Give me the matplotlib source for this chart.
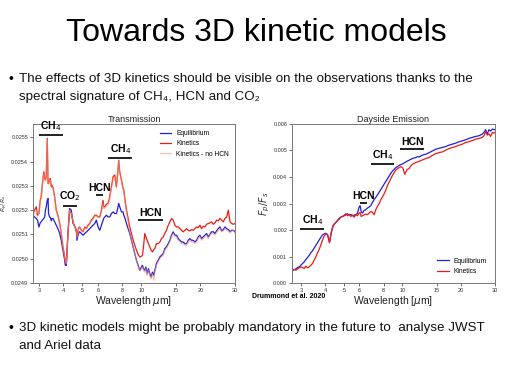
import numpy as np
import matplotlib
matplotlib.use("Agg")
import matplotlib.pyplot as plt
from matplotlib.ticker import NullLocator, FormatStrFormatter

plt.rcParams['font.family'] = ['Liberation Sans', 'DejaVu Sans']
plt.rcParams['mathtext.fontset'] = 'dejavusans'

# ---- transmission (left panel) ----
wl_tr = [2.795, 2.851, 2.907, 2.953, 3.000, 3.047, 3.083, 3.12, 3.18, 3.21,
         3.24, 3.27, 3.31, 3.34, 3.36, 3.40, 3.43, 3.47, 3.50, 3.54,
         3.61, 3.68, 3.75, 3.83, 3.90, 3.98, 4.06, 4.09, 4.14, 4.22,
         4.30, 4.39, 4.48, 4.51, 4.62, 4.66, 4.69, 4.77, 4.84, 4.94,
         5.04, 5.14, 5.24, 5.34, 5.45, 5.55, 5.66, 5.78, 5.89, 6.01,
         6.13, 6.25, 6.37, 6.42, 6.50, 6.63, 6.76, 6.89, 7.03, 7.17,
         7.31, 7.45, 7.54, 7.66, 7.75, 7.91, 8.06, 8.13, 8.25, 8.39,
         8.55, 8.72, 8.89, 9.07, 9.25, 9.43, 9.62, 9.81, 10.00, 10.12,
         10.24, 10.40, 10.53, 10.69, 10.86, 11.03, 11.20, 11.38, 11.56, 11.70,
         11.93, 12.17, 12.41, 12.66, 12.91, 13.16, 13.42, 13.69, 13.96, 14.24,
         14.52, 14.81, 15.10, 15.40, 15.70, 16.01, 16.33, 16.65, 16.98, 17.32,
         17.66, 18.01, 18.37, 18.73, 19.10, 19.48, 19.87, 20.26, 20.66, 21.07,
         21.49, 21.91, 22.35, 22.79, 23.24, 23.70, 24.17, 24.65, 25.14, 25.64,
         26.15, 26.66, 27.19, 27.73, 28.29, 28.85, 29.42, 30.00]

tr_equilibrium = [
    0.025179, 0.025172, 0.025166, 0.025159, 0.025131, 0.025148, 0.025152, 0.025159, 0.025166, 0.025172,
    0.025200, 0.025214, 0.025241, 0.025248, 0.025186, 0.025172, 0.025170, 0.025156, 0.025166, 0.025166,
    0.025152, 0.025138, 0.025124, 0.025104, 0.025076, 0.025035, 0.024994, 0.024973, 0.024973, 0.025104,
    0.025207, 0.025200, 0.025145, 0.025142, 0.025124, 0.025111, 0.025076, 0.025104, 0.025111, 0.025104,
    0.025097, 0.025104, 0.025111, 0.025117, 0.025124, 0.025131, 0.025138, 0.025145, 0.025159, 0.025131,
    0.025117, 0.025138, 0.025159, 0.025166, 0.025172, 0.025179, 0.025172, 0.025172, 0.025186, 0.025193,
    0.025186, 0.025186, 0.025200, 0.025228, 0.025214, 0.025193, 0.025193, 0.025179, 0.025166, 0.025145,
    0.025124, 0.025104, 0.025076, 0.025049, 0.025021, 0.024994, 0.024973, 0.024952, 0.024966, 0.024973,
    0.024959, 0.024952, 0.024966, 0.024939, 0.024959, 0.024939, 0.024925, 0.024945, 0.024932, 0.024952,
    0.024980, 0.024994, 0.025007, 0.025014, 0.025021, 0.025042, 0.025049, 0.025062, 0.025076, 0.025097,
    0.025111, 0.025097, 0.025097, 0.025083, 0.025076, 0.025069, 0.025069, 0.025062, 0.025062, 0.025076,
    0.025083, 0.025076, 0.025076, 0.025069, 0.025076, 0.025090, 0.025097, 0.025083, 0.025090, 0.025097,
    0.025104, 0.025090, 0.025101, 0.025111, 0.025111, 0.025104, 0.025115, 0.025124, 0.025131, 0.025115,
    0.025120, 0.025131, 0.025124, 0.025120, 0.025111, 0.025117, 0.025117, 0.025111]

tr_kinetics = [
    0.025186, 0.025200, 0.025214, 0.025179, 0.025186, 0.025241, 0.025255, 0.025303, 0.025358, 0.025331,
    0.025324, 0.025338, 0.025496, 0.025310, 0.025310, 0.025324, 0.025331, 0.025296, 0.025303, 0.025294,
    0.025255, 0.025200, 0.025179, 0.025145, 0.025104, 0.025049, 0.025007, 0.024994, 0.024980, 0.025104,
    0.025200, 0.025186, 0.025152, 0.025145, 0.025124, 0.025117, 0.025090, 0.025124, 0.025131, 0.025117,
    0.025111, 0.025131, 0.025124, 0.025138, 0.025145, 0.025159, 0.025166, 0.025179, 0.025179, 0.025172,
    0.025172, 0.025200, 0.025241, 0.025214, 0.025214, 0.025225, 0.025228, 0.025255, 0.025296, 0.025338,
    0.025345, 0.025296, 0.025338, 0.025406, 0.025358, 0.025324, 0.025290, 0.025283, 0.025241, 0.025200,
    0.025166, 0.025131, 0.025104, 0.025076, 0.025056, 0.025035, 0.025018, 0.025007, 0.025010, 0.025014,
    0.025049, 0.025104, 0.025090, 0.025076, 0.025062, 0.025049, 0.025035, 0.025028, 0.025038, 0.025042,
    0.025062, 0.025062, 0.025069, 0.025083, 0.025090, 0.025104, 0.025117, 0.025138, 0.025152, 0.025166,
    0.025159, 0.025138, 0.025131, 0.025131, 0.025124, 0.025117, 0.025111, 0.025117, 0.025124, 0.025117,
    0.025115, 0.025120, 0.025117, 0.025124, 0.025131, 0.025128, 0.025138, 0.025124, 0.025134, 0.025131,
    0.025142, 0.025145, 0.025148, 0.025152, 0.025142, 0.025148, 0.025159, 0.025156, 0.025166, 0.025159,
    0.025152, 0.025166, 0.025172, 0.025200, 0.025152, 0.025145, 0.025142, 0.025145]

tr_kinetics_nohcn = [
    0.025179, 0.025193, 0.025200, 0.025172, 0.025186, 0.025234, 0.025255, 0.025299, 0.025351, 0.025331,
    0.025324, 0.025338, 0.025492, 0.025310, 0.025307, 0.025321, 0.025327, 0.025294, 0.025299, 0.025290,
    0.025252, 0.025200, 0.025179, 0.025145, 0.025104, 0.025049, 0.025007, 0.024991, 0.024980, 0.025104,
    0.025200, 0.025186, 0.025152, 0.025142, 0.025124, 0.025115, 0.025087, 0.025120, 0.025131, 0.025115,
    0.025111, 0.025127, 0.025124, 0.025134, 0.025142, 0.025156, 0.025161, 0.025175, 0.025175, 0.025170,
    0.025170, 0.025193, 0.025228, 0.025207, 0.025207, 0.025217, 0.025221, 0.025248, 0.025290, 0.025331,
    0.025338, 0.025294, 0.025335, 0.025404, 0.025354, 0.025321, 0.025285, 0.025280, 0.025234, 0.025193,
    0.025152, 0.025111, 0.025076, 0.025049, 0.025021, 0.024991, 0.024969, 0.024950, 0.024959, 0.024966,
    0.024952, 0.024945, 0.024959, 0.024932, 0.024952, 0.024932, 0.024918, 0.024939, 0.024911, 0.024945,
    0.024973, 0.024987, 0.025000, 0.025007, 0.025014, 0.025035, 0.025042, 0.025056, 0.025069, 0.025090,
    0.025104, 0.025090, 0.025090, 0.025076, 0.025069, 0.025062, 0.025062, 0.025056, 0.025056, 0.025069,
    0.025076, 0.025069, 0.025069, 0.025062, 0.025069, 0.025083, 0.025090, 0.025076, 0.025083, 0.025090,
    0.025097, 0.025083, 0.025097, 0.025104, 0.025104, 0.025097, 0.025108, 0.025117, 0.025124, 0.025111,
    0.025115, 0.025124, 0.025117, 0.025115, 0.025106, 0.025115, 0.025115, 0.025106]

# ---- dayside emission (right panel) ----
wl_em = [2.697, 2.772, 2.827, 2.884, 2.941, 3.000, 3.060, 3.121, 3.183, 3.247,
         3.311, 3.377, 3.445, 3.513, 3.584, 3.655, 3.728, 3.802, 3.878, 3.956,
         4.034, 4.115, 4.164, 4.214, 4.264, 4.332, 4.401, 4.471, 4.542, 4.633,
         4.725, 4.819, 4.915, 5.013, 5.113, 5.215, 5.319, 5.425, 5.533, 5.644,
         5.756, 5.871, 5.988, 6.059, 6.131, 6.229, 6.353, 6.480, 6.609, 6.741,
         6.875, 7.012, 7.152, 7.295, 7.440, 7.589, 7.740, 7.894, 8.052, 8.212,
         8.376, 8.543, 8.713, 8.887, 9.064, 9.244, 9.429, 9.617, 9.808, 10.004,
         10.123, 10.284, 10.407, 10.615, 10.826, 11.042, 11.262, 11.487, 11.716, 11.949,
         12.187, 12.430, 12.678, 12.931, 13.188, 13.451, 13.720, 13.993, 14.272, 14.556,
         14.847, 15.143, 15.444, 16.067, 16.713, 17.387, 18.087, 18.816, 19.574, 20.362,
         21.182, 22.035, 22.923, 23.846, 24.807, 25.806, 26.320, 26.846, 27.382, 27.928,
         28.485, 29.067, 29.647, 30.0]

em_equilibrium = [
    0.000457, 0.000507, 0.000533, 0.000584, 0.000609, 0.000672, 0.000736, 0.000799, 0.000888, 0.000964,
    0.001040, 0.001142, 0.001218, 0.001319, 0.001421, 0.001522, 0.001624, 0.001725, 0.001814, 0.001852,
    0.001877, 0.001827, 0.001687, 0.001522, 0.001751, 0.002004, 0.002157, 0.002233, 0.002283, 0.002360,
    0.002436, 0.002486, 0.002512, 0.002537, 0.002575, 0.002613, 0.002562, 0.002588, 0.002537, 0.002562,
    0.002575, 0.002639, 0.002867, 0.002918, 0.002702, 0.002639, 0.002740, 0.002765, 0.002829, 0.002867,
    0.002918, 0.003045, 0.003146, 0.003235, 0.003324, 0.003425, 0.003527, 0.003628, 0.003730, 0.003831,
    0.003933, 0.004034, 0.004136, 0.004224, 0.004288, 0.004351, 0.004389, 0.004440, 0.004465, 0.004491,
    0.004516, 0.004541, 0.004567, 0.004605, 0.004630, 0.004668, 0.004694, 0.004719, 0.004732, 0.004770,
    0.004757, 0.004795, 0.004820, 0.004846, 0.004859, 0.004884, 0.004922, 0.004947, 0.004985, 0.005011,
    0.005049, 0.005062, 0.005087, 0.005112, 0.005150, 0.005201, 0.005239, 0.005277, 0.005328, 0.005366,
    0.005404, 0.005455, 0.005493, 0.005531, 0.005556, 0.005620, 0.005683, 0.005785, 0.005620, 0.005785,
    0.005734, 0.005810, 0.005785, 0.005785]

em_kinetics = [
    0.000482, 0.000507, 0.000482, 0.000533, 0.000571, 0.000609, 0.000584, 0.000545, 0.000634, 0.000571,
    0.000609, 0.000672, 0.000736, 0.000863, 0.000989, 0.001142, 0.001269, 0.001433, 0.001624, 0.001776,
    0.001852, 0.001827, 0.001687, 0.001522, 0.001751, 0.002004, 0.002157, 0.002233, 0.002283, 0.002360,
    0.002410, 0.002486, 0.002512, 0.002550, 0.002613, 0.002537, 0.002588, 0.002512, 0.002562, 0.002486,
    0.002575, 0.002537, 0.002639, 0.002664, 0.002512, 0.002537, 0.002575, 0.002601, 0.002575, 0.002639,
    0.002702, 0.002664, 0.002575, 0.002765, 0.002892, 0.002994, 0.003146, 0.003248, 0.003362, 0.003501,
    0.003679, 0.003806, 0.003933, 0.004059, 0.004161, 0.004262, 0.004313, 0.004351, 0.004389, 0.004351,
    0.004288, 0.004097, 0.004186, 0.004288, 0.004313, 0.004415, 0.004478, 0.004516, 0.004541, 0.004567,
    0.004592, 0.004618, 0.004643, 0.004668, 0.004694, 0.004719, 0.004732, 0.004770, 0.004820, 0.004846,
    0.004884, 0.004897, 0.004922, 0.004947, 0.005011, 0.005074, 0.005112, 0.005150, 0.005201, 0.005239,
    0.005303, 0.005328, 0.005379, 0.005429, 0.005455, 0.005493, 0.005556, 0.005709, 0.005582, 0.005632,
    0.005531, 0.005683, 0.005658, 0.005683]

wl_ticks = [3, 4, 5, 6, 8, 10, 15, 20, 30]

# molecule bands: label, start, end, height
bands_tr = [("CH$_4$", 3.0, 3.98, 0.025510), ("CO$_2$", 3.98, 4.69, 0.025219),
            ("HCN", 5.86, 6.37, 0.025262), ("CH$_4$", 6.76, 9.0, 0.025416),
            ("HCN", 9.6, 12.9, 0.025159)]
bands_em = [("CH$_4$", 2.98, 3.96, 0.00203), ("HCN", 6.06, 6.54, 0.00302),
            ("CH$_4$", 6.88, 9.06, 0.00448), ("HCN", 9.75, 12.93, 0.00507)]

BLUE = '#1f1fdc'
RED = '#ec1c14'
PINK = '#f5926e'

fig = plt.figure(figsize=(5.12, 3.77), dpi=100)

fig.text(0.5, 0.912, "Towards 3D kinetic models", ha='center', va='center',
         fontsize=23, color='black')
fig.text(0.016, 0.79, "\u2022", fontsize=10, va='center')
fig.text(0.037, 0.79, "The effects of 3D kinetics should be visible on the observations thanks to the",
         fontsize=9.6, va='center', color='#111')
fig.text(0.037, 0.742, "spectral signature of CH\u2084, HCN and CO\u2082",
         fontsize=9.6, va='center', color='#111')
fig.text(0.016, 0.131, "\u2022", fontsize=10, va='center')
fig.text(0.037, 0.131, "3D kinetic models might be probably mandatory in the future to  analyse JWST",
         fontsize=9.6, va='center', color='#111')
fig.text(0.037, 0.081, "and Ariel data", fontsize=9.6, va='center', color='#111')


def style_axes(ax, xlim):
    ax.set_xscale('log')
    ax.set_xlim(*xlim)
    ax.set_xticks(wl_ticks)
    ax.set_xticklabels([str(t) for t in wl_ticks])
    ax.xaxis.set_minor_locator(NullLocator())
    ax.tick_params(labelsize=4.0, length=2, width=0.5, colors='#333', pad=1.5)
    for s in ax.spines.values():
        s.set_color('#777')
        s.set_linewidth(0.7)


def draw_bands(ax, bands):
    for name, x0, x1, y in bands:
        ax.plot([x0, x1], [y, y], color='#111', lw=1.3, solid_capstyle='butt')
        xc = np.sqrt(x0 * x1)
        ax.annotate(name, (xc, y), xytext=(0, 1.5), textcoords='offset points',
                    ha='center', va='bottom', fontsize=7.5, fontweight='bold')


# left: transmission
ax1 = fig.add_axes([0.0645, 0.2493, 0.3945, 0.4218])
ax1.plot(wl_tr, tr_equilibrium, color=BLUE, lw=0.9, label='Equilibrium')
ax1.plot(wl_tr, tr_kinetics, color=RED, lw=0.9, label='Kinetics')
ax1.plot(wl_tr, tr_kinetics_nohcn, color=PINK, lw=0.9, alpha=0.6, label='Kinetics - no HCN')
style_axes(ax1, (2.8, 30))
ax1.set_ylim(0.0249, 0.025555)
ax1.set_yticks([0.0249, 0.0250, 0.0251, 0.0252, 0.0253, 0.0254, 0.0255])
ax1.yaxis.set_major_formatter(FormatStrFormatter('%.4f'))
ax1.set_title("Transmission", fontsize=6.5, pad=1.5, color='#222')
ax1.set_xlabel("Wavelength $\\mu$m]", fontsize=7.5, labelpad=0.5, color='#222')
ax1.set_ylabel("$R_p/R_s$", fontsize=4.3, color='#333')
ax1.yaxis.set_label_coords(-0.112, 0.5)
draw_bands(ax1, bands_tr)
ax1.legend(loc='upper right', frameon=False, fontsize=4.8, handlelength=1.6,
           borderaxespad=0.5, labelspacing=0.5)

# right: dayside emission
ax2 = fig.add_axes([0.5703, 0.2493, 0.3965, 0.4218])
ax2.plot(wl_em, em_equilibrium, color=BLUE, lw=0.9, label='Equilibrium')
ax2.plot(wl_em, em_kinetics, color=RED, lw=0.9, label='Kinetics')
style_axes(ax2, (2.7, 30))
ax2.set_ylim(0, 0.006)
ax2.set_yticks([0, 0.001, 0.002, 0.003, 0.004, 0.005, 0.006])
ax2.yaxis.set_major_formatter(FormatStrFormatter('%.3f'))
ax2.set_title("Dayside Emission", fontsize=6.5, pad=1.5, color='#222')
ax2.set_xlabel("Wavelength [$\\mu$m]", fontsize=7.5, labelpad=0.5, color='#222')
ax2.set_ylabel("$F_p/F_s$", fontsize=7, labelpad=1, color='#333')
draw_bands(ax2, bands_em)
ax2.legend(loc='lower right', frameon=False, fontsize=4.8, handlelength=1.8,
           borderaxespad=0.8, labelspacing=0.5)

fig.text(0.563, 0.213, "Drummond et al. 2020", fontsize=5, fontweight='bold',
         ha='center', va='center')

fig.savefig("out.png", dpi=100)
